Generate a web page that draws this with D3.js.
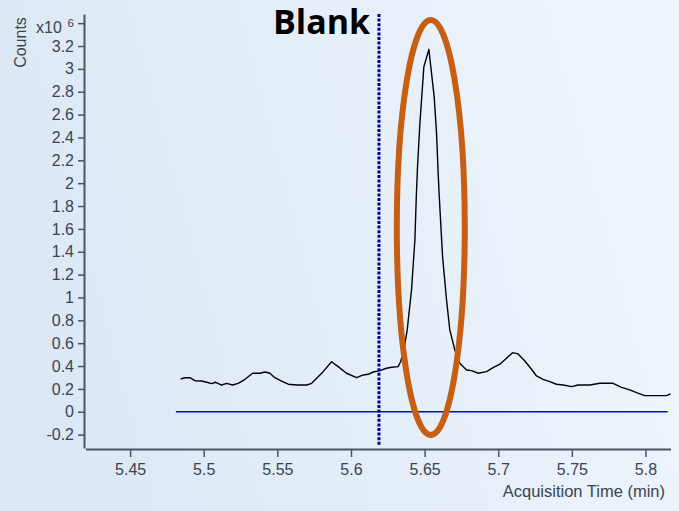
<!DOCTYPE html>
<html>
<head>
<meta charset="utf-8">
<script src="https://cdn.jsdelivr.net/npm/d3@7"></script>
<style>
  html, body { margin: 0; padding: 0; overflow: hidden; background: #e4eef8; }
  svg { display: block; }
</style>
</head>
<body>
<svg id="chart" width="679" height="511"></svg>
<script>
// Chromatogram trace: acquisition time (min) and counts (x10^6)
const time = [
  5.4843, 5.4872, 5.4906, 5.4940, 5.4986, 5.5020, 5.5054, 5.5081, 5.5122, 5.5155,
  5.5196, 5.5234, 5.5280, 5.5332, 5.5382, 5.5415, 5.5449, 5.5483, 5.5529, 5.5574,
  5.5631, 5.5699, 5.5733, 5.5767, 5.5811, 5.5868, 5.5913, 5.5970, 5.6038, 5.6083,
  5.6117, 5.6151, 5.6196, 5.6242, 5.6276, 5.6320, 5.6337, 5.6359, 5.6382, 5.6411,
  5.6434, 5.6444, 5.6452, 5.6468, 5.6495, 5.6502, 5.6529, 5.6542, 5.6565, 5.6581,
  5.6592, 5.6599, 5.6622, 5.6649, 5.6671, 5.6705, 5.6739, 5.6785, 5.6819, 5.6864,
  5.6921, 5.6965, 5.7011, 5.7056, 5.7097, 5.7135, 5.7181, 5.7226, 5.7260, 5.7305,
  5.7350, 5.7396, 5.7441, 5.7498, 5.7542, 5.7622, 5.7690, 5.7780, 5.7837, 5.7893,
  5.7939, 5.7995, 5.8052, 5.8143, 5.8170
];
const counts = [
  0.287, 0.298, 0.298, 0.272, 0.269, 0.258, 0.246, 0.258, 0.234, 0.249,
  0.234, 0.249, 0.284, 0.337, 0.337, 0.348, 0.337, 0.298, 0.269, 0.241,
  0.234, 0.234, 0.249, 0.293, 0.351, 0.438, 0.395, 0.337, 0.298, 0.322,
  0.328, 0.348, 0.360, 0.381, 0.389, 0.395, 0.438, 0.541, 0.716, 1.066,
  1.503, 1.897, 2.144, 2.524, 3.019, 3.049, 3.171, 3.019, 2.757, 2.439,
  2.089, 1.897, 1.357, 0.978, 0.716, 0.541, 0.424, 0.366, 0.360, 0.337,
  0.351, 0.386, 0.416, 0.468, 0.517, 0.506, 0.444, 0.372, 0.313, 0.284,
  0.263, 0.241, 0.234, 0.220, 0.234, 0.234, 0.249, 0.249, 0.214, 0.191,
  0.167, 0.141, 0.141, 0.141, 0.156
];

// Blank trace (flat at zero)
const blankTime = [5.4811, 5.8151];
const blankCounts = [0, 0];

// Marker for the blank injection time
const blankMarkerTime = 5.619;
const blankMarkerRange = [-0.29, 3.48];

// Highlight ring around the peak: centre and half-extents in data units
const ringCenter = [5.6542, 1.612];
const ringHalf = [0.02308, 1.815];

// Axis ticks
const xTicks = [5.45, 5.5, 5.55, 5.6, 5.65, 5.7, 5.75, 5.8];
const yTicks = [-0.2, 0, 0.2, 0.4, 0.6, 0.8, 1, 1.2, 1.4, 1.6, 1.8, 2, 2.2, 2.4, 2.6, 2.8, 3, 3.2, 3.4];

const xDomain = [5.4197, 5.8170];
const yDomain = [-0.317, 3.48];

const svg = d3.select("#chart");
const W = 679, H = 511;

// Background wash
const defs = svg.append("defs");
const grad = defs.append("linearGradient")
  .attr("id", "bg").attr("x1", "0").attr("y1", "0.6").attr("x2", "1").attr("y2", "0.4");
grad.append("stop").attr("offset", "0").attr("stop-color", "#dbe7f4");
grad.append("stop").attr("offset", "0.5").attr("stop-color", "#e4eef8");
grad.append("stop").attr("offset", "1").attr("stop-color", "#eef4fb");
svg.append("rect").attr("width", W).attr("height", H).attr("fill", "url(#bg)");

const x = d3.scaleLinear().domain(xDomain).range([85.5, 670.5]);
const y = d3.scaleLinear().domain(yDomain).range([448, 14]);

const axisColor = "#4b5662";
const textColor = "#3a444f";
const tickFont = "'Liberation Sans', Arial, sans-serif";

// Y axis
const yAxis = d3.axisLeft(y)
  .tickValues(yTicks)
  .tickSize(6)
  .tickSizeOuter(0)
  .tickPadding(4)
  .tickFormat(v => Math.abs(v - 3.4) < 1e-9 ? "" : String(+v.toFixed(1)));
const gy = svg.append("g").attr("transform", "translate(84,0)").call(yAxis);

// X axis
const xAxis = d3.axisBottom(x)
  .tickValues(xTicks)
  .tickSize(8)
  .tickSizeOuter(0)
  .tickPadding(7)
  .tickFormat(v => String(+v.toFixed(2)));
const gx = svg.append("g").attr("transform", "translate(0,449)").call(xAxis);

[gx, gy].forEach(g => {
  g.select(".domain").attr("stroke", axisColor).attr("stroke-width", 2);
  g.selectAll(".tick line").attr("stroke", axisColor).attr("stroke-width", 1.5);
  g.selectAll(".tick text")
    .attr("fill", textColor)
    .style("font-family", tickFont)
    .style("font-size", "16px");
});

// Axis titles
svg.append("text")
  .attr("transform", "translate(26,42.5) rotate(-90)")
  .attr("text-anchor", "middle")
  .attr("fill", textColor)
  .style("font-family", tickFont)
  .style("font-size", "16px")
  .text("Counts");

const mult = svg.append("text")
  .attr("x", 36).attr("y", 33)
  .attr("fill", textColor)
  .style("font-family", tickFont)
  .style("font-size", "16px");
mult.append("tspan").text("x10");
mult.append("tspan").attr("x", 67.5).attr("y", 27.3).style("font-size", "11.5px").text("6");

svg.append("text")
  .attr("x", 665).attr("y", 497)
  .attr("text-anchor", "end")
  .attr("fill", textColor)
  .style("font-family", tickFont)
  .style("font-size", "16.5px")
  .text("Acquisition Time (min)");

// Zero line of the blank
const line = d3.line().x(d => x(d[0])).y(d => y(d[1]));
svg.append("path")
  .datum(d3.zip(blankTime, blankCounts))
  .attr("d", line)
  .attr("fill", "none")
  .attr("stroke", "#0000ff")
  .attr("stroke-width", 1.5);

// Sample trace
svg.append("path")
  .datum(d3.zip(time, counts))
  .attr("d", line)
  .attr("fill", "none")
  .attr("stroke", "#000")
  .attr("stroke-width", 1.4)
  .attr("stroke-linejoin", "round");

// Dotted marker at the blank time
svg.append("line")
  .attr("x1", x(blankMarkerTime)).attr("x2", x(blankMarkerTime))
  .attr("y1", y(blankMarkerRange[1])).attr("y2", y(blankMarkerRange[0]))
  .attr("stroke", "#000096")
  .attr("stroke-width", 3)
  .attr("stroke-dasharray", "3,1.6");

svg.append("text")
  .attr("x", 273).attr("y", 34)
  .attr("fill", "#000")
  .style("font-family", "'Open Sans', 'Noto Sans', sans-serif")
  .style("font-weight", "bold")
  .style("font-size", "34px")
  .text("Blank");

// Ring around the peak
svg.append("ellipse")
  .attr("cx", x(ringCenter[0]))
  .attr("cy", y(ringCenter[1]))
  .attr("rx", x(ringCenter[0] + ringHalf[0]) - x(ringCenter[0]))
  .attr("ry", y(ringCenter[1] - ringHalf[1]) - y(ringCenter[1]))
  .attr("fill", "none")
  .attr("stroke", "#c65e14")
  .attr("stroke-width", 6);
</script>
</body>
</html>
